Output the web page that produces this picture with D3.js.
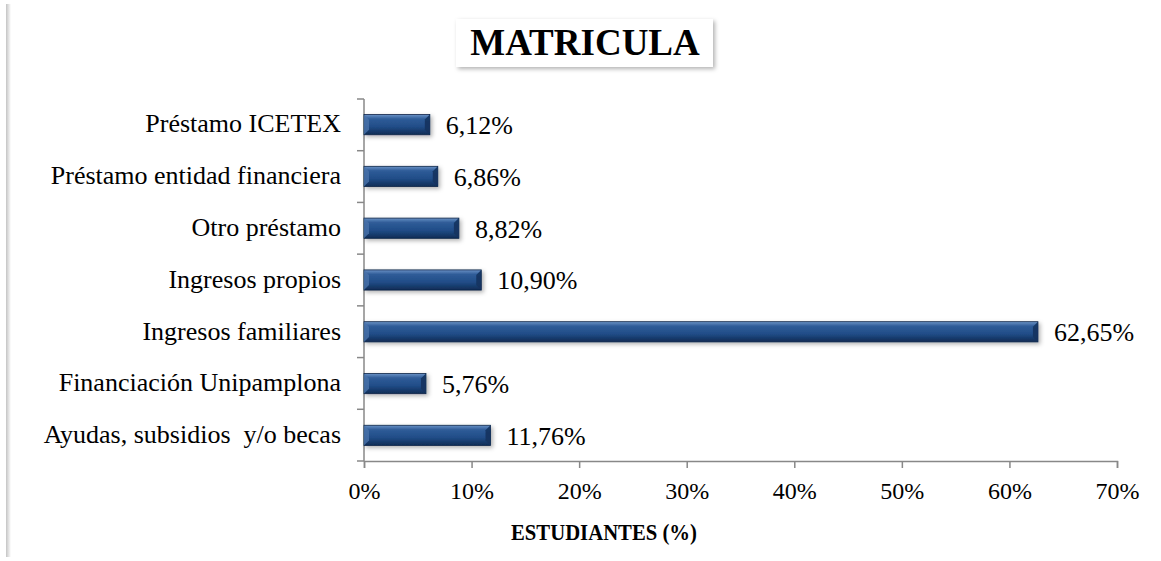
<!DOCTYPE html>
<html>
<head>
<meta charset="utf-8">
<script src="https://cdn.jsdelivr.net/npm/d3@7"></script>
<style>
  body { margin: 0; background: #fff; }
  text { font-family: "Liberation Serif", "Times New Roman", serif; }
</style>
</head>
<body>
<div class="container"></div>
<script>
const categories = ["Préstamo ICETEX", "Préstamo entidad financiera", "Otro préstamo", "Ingresos propios", "Ingresos familiares", "Financiación Unipamplona", "Ayudas, subsidios  y/o becas"]
const values = [6.12, 6.86, 8.82, 10.90, 62.65, 5.76, 11.76]
const xTicks = [0, 10, 20, 30, 40, 50, 60, 70]

const width = 1161
const height = 561
const margin = { top: 99, bottom: 100, left: 364, right: 44 }

let svg = d3.select(".container")
    .append("svg")
    .attr("width", width)
    .attr("height", height)
    .attr("viewBox", [0, 0, width, height])

let defs = svg.append("defs")

let grad = defs.append("linearGradient")
    .attr("id", "barGrad")
    .attr("x1", 0).attr("y1", 0).attr("x2", 0).attr("y2", 1)
grad.append("stop").attr("offset", "0%").attr("stop-color", "#6a92c6")
grad.append("stop").attr("offset", "22%").attr("stop-color", "#2f5c98")
grad.append("stop").attr("offset", "60%").attr("stop-color", "#214d88")
grad.append("stop").attr("offset", "100%").attr("stop-color", "#0f2c55")

let shadow = defs.append("filter").attr("id", "shadow")
    .attr("x", "-20%").attr("y", "-20%").attr("width", "150%").attr("height", "160%")
shadow.append("feDropShadow")
    .attr("dx", 2).attr("dy", 2).attr("stdDeviation", 2)
    .attr("flood-color", "#000").attr("flood-opacity", 0.3)

// left frame edge
let edge = defs.append("linearGradient").attr("id", "edgeGrad")
edge.append("stop").attr("offset", "0%").attr("stop-color", "#c4c4c4")
edge.append("stop").attr("offset", "100%").attr("stop-color", "#ffffff")
svg.append("rect")
    .attr("x", 6).attr("y", 4)
    .attr("width", 5).attr("height", height - 8)
    .attr("fill", "url(#edgeGrad)")

let x = d3.scaleLinear()
    .domain([0, 70])
    .range([margin.left, width - margin.right])

let y = d3.scaleBand()
    .domain(categories)
    .range([margin.top, height - margin.bottom])
    .paddingInner(0.61)
    .paddingOuter(0.3)

// x axis
let xAxis = svg.append("g")
    .attr("transform", `translate(0, ${height - margin.bottom})`)
    .call(d3.axisBottom(x).tickValues(xTicks).tickSize(7).tickSizeOuter(7).tickFormat(d => d + "%"))
xAxis.select(".domain").attr("stroke", "#888").attr("stroke-width", 1.5)
xAxis.selectAll(".tick line").attr("stroke", "#888").attr("stroke-width", 1.5)
xAxis.selectAll(".tick text")
    .attr("fill", "#000")
    .attr("y", 38)
    .attr("dy", 0)
    .style("font-family", "Liberation Serif, serif")
    .style("font-size", "24px")

// y axis line and boundary ticks
let yAxis = svg.append("g")
yAxis.append("line")
    .attr("x1", margin.left).attr("x2", margin.left)
    .attr("y1", margin.top).attr("y2", height - margin.bottom)
    .attr("stroke", "#888").attr("stroke-width", 1.5)
let bounds = d3.range(categories.length + 1).map(i => margin.top + i * (height - margin.bottom - margin.top) / categories.length)
yAxis.selectAll(".ytick")
    .data(bounds)
    .enter()
    .append("line")
    .attr("x1", margin.left - 7).attr("x2", margin.left)
    .attr("y1", d => d).attr("y2", d => d)
    .attr("stroke", "#888").attr("stroke-width", 1.5)

yAxis.selectAll(".ylabel")
    .data(categories)
    .enter()
    .append("text")
    .attr("x", margin.left - 23)
    .attr("y", d => y(d) + y.bandwidth() / 2)
    .attr("dy", "0.3em")
    .attr("text-anchor", "end")
    .style("font-size", "26px")
    .style("white-space", "pre")
    .text(d => d)

// bars
let bars = svg.append("g")
    .selectAll("g")
    .data(categories)
    .enter()
    .append("g")
    .attr("filter", "url(#shadow)")

bars.append("rect")
    .attr("x", x(0))
    .attr("y", d => y(d))
    .attr("width", (d, i) => x(values[i]) - x(0))
    .attr("height", y.bandwidth())
    .attr("fill", "url(#barGrad)")
    .attr("stroke", "#0e2447")
    .attr("stroke-width", 0.8)

// bevel at the ends
let bv = 5
bars.append("path")
    .attr("d", (d, i) => {
        let x0 = x(0), y0 = y(d), y1 = y(d) + y.bandwidth()
        return `M${x0},${y0}L${x0 + bv},${y0 + bv}L${x0 + bv},${y1 - bv}L${x0},${y1}Z`
    })
    .attr("fill", "#4a73aa").attr("opacity", 0.8)
bars.append("path")
    .attr("d", (d, i) => {
        let x1 = x(values[i]), y0 = y(d), y1 = y(d) + y.bandwidth()
        return `M${x1},${y0}L${x1 - bv},${y0 + bv}L${x1 - bv},${y1 - bv}L${x1},${y1}Z`
    })
    .attr("fill", "#14335f").attr("opacity", 0.9)

// value labels
svg.append("g")
    .selectAll("text")
    .data(categories)
    .enter()
    .append("text")
    .attr("x", (d, i) => x(values[i]) + 16)
    .attr("y", d => y(d) + y.bandwidth() / 2)
    .attr("dy", "0.36em")
    .style("font-size", "26px")
    .text((d, i) => values[i].toFixed(2).replace(".", ",") + "%")

// axis title
svg.append("text")
    .attr("x", 511)
    .attr("y", 540)
    .attr("textLength", 186)
    .attr("lengthAdjust", "spacingAndGlyphs")
    .style("font-size", "24px")
    .style("font-weight", "bold")
    .text("ESTUDIANTES (%)")

// title box
let title = svg.append("g")
title.append("rect")
    .attr("x", 456).attr("y", 19)
    .attr("width", 257).attr("height", 48)
    .attr("fill", "#fff")
    .attr("filter", "url(#shadow)")
title.append("text")
    .attr("x", 585)
    .attr("y", 55)
    .attr("text-anchor", "middle")
    .style("font-size", "37px")
    .style("font-weight", "bold")
    .text("MATRICULA")

svg.node()
</script>
</body>
</html>
